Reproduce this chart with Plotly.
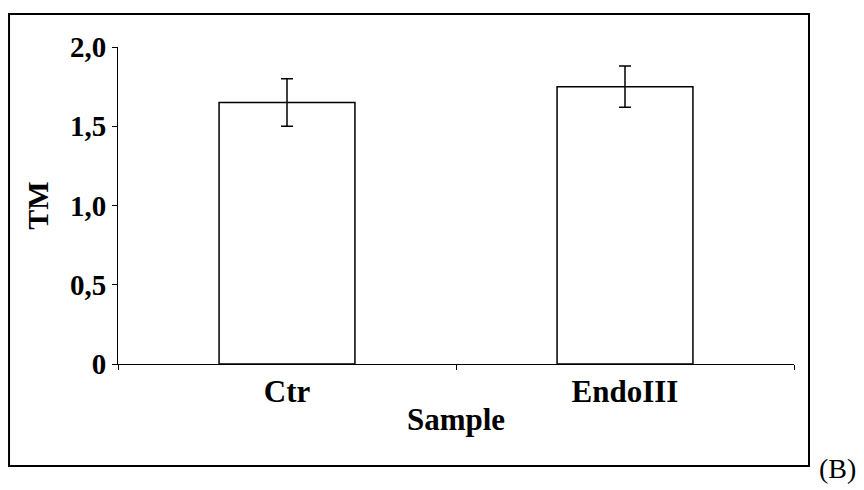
import plotly.graph_objects as go

# bar chart: TM per sample, with error bars
samples = ["Ctr", "EndoIII"]
tm_mean = [1.65, 1.75]
tm_err = [0.15, 0.13]

y_ticks = [0, 0.5, 1.0, 1.5, 2.0]
y_tick_text = ["0", "0,5", "1,0", "1,5", "2,0"]

serif = "Liberation Serif, Times New Roman, serif"

fig = go.Figure()
fig.add_trace(go.Bar(
    x=samples, y=tm_mean,
    marker=dict(color="white", line=dict(color="black", width=1.5)),
    error_y=dict(type="data", array=tm_err, color="black", thickness=1.5, width=6),
))

fig.update_xaxes(
    showline=True, linecolor="black", linewidth=1,
    ticks="outside", tickson="boundaries", ticklen=5, tickcolor="black",
    tickfont=dict(family=serif, size=31, color="black", weight="bold"),
    title=dict(text="Sample", standoff=0,
               font=dict(family=serif, size=31, color="black", weight="bold")),
    showgrid=False,
)
fig.update_yaxes(
    range=[0, 2.0], tickvals=y_ticks, ticktext=y_tick_text,
    showline=True, linecolor="black", linewidth=1,
    ticks="outside", ticklen=5, tickcolor="black",
    tickfont=dict(family=serif, size=29, color="black", weight="bold"),
    title=dict(text="TM", standoff=12,
               font=dict(family=serif, size=30, color="black", weight="bold")),
    showgrid=False, zeroline=False,
)

# frame around the whole chart
fig.add_shape(type="rect", xref="paper", yref="paper",
              x0=-0.1612, x1=1.0222, y0=-0.3218, y1=1.104,
              line=dict(color="black", width=2))
fig.add_annotation(text="(B)", xref="paper", yref="paper",
                   x=1.034, y=-0.33, xanchor="left", yanchor="middle",
                   showarrow=False,
                   font=dict(family=serif, size=28, color="black"))

# page body has an 8px margin, so the figure is a bit smaller than the window
fig.update_layout(
    width=856, height=482,
    margin=dict(l=110, r=70, t=39, b=126),
    plot_bgcolor="white", paper_bgcolor="white",
    bargap=0.598, showlegend=False,
)

fig.write_html("out.html")
